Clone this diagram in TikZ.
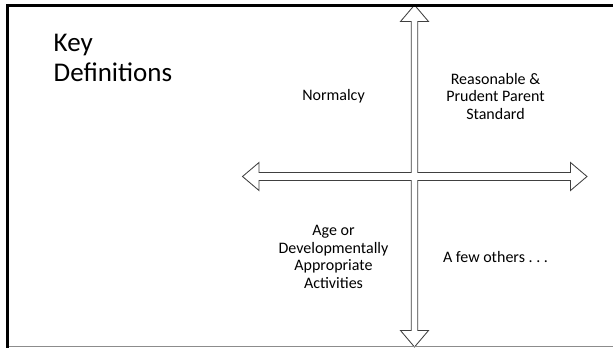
\documentclass[tikz,border=0pt]{standalone}
\usepackage{fontspec}
\setmainfont{Carlito}
\frenchspacing

\begin{document}
\begin{tikzpicture}[x=1pt, y=-1pt,
    quad/.style={align=center, inner sep=0pt, font=\fontsize{16}{17.8}\selectfont},
    crossline/.style={draw=black!75, line width=0.85pt, fill=white},
    frameline/.style={draw=black, line width=2.6pt}]
    \useasboundingbox (0,0) rectangle (613,348);

    \coordinate (cross) at (414.5,176.5);

    \begin{scope}[shift={(cross)}]
        \draw[crossline] (3.2,-4) -- (3.2,-155) -- (14,-155) -- (0,-171.5) -- (-14,-155) -- (-3.2,-155)
            -- (-3.2,-4) -- (-155.5,-4) -- (-155.5,-14) -- (-172,0) -- (-155.5,14) -- (-155.5,4)
            -- (-3.2,4) -- (-3.2,154) -- (-14,154) -- (0,170.5) -- (14,154) -- (3.2,154)
            -- (3.2,4) -- (156,4) -- (156,14) -- (172.5,0) -- (156,-14) -- (156,-4) -- cycle;
    \end{scope}

    \node[anchor=north west, align=left, inner sep=0pt, font=\fontsize{27}{30}\selectfont] (title) at (53.5,33.5) {Key\\Definitions};

    \node[quad] (text_tl) at ([shift={(-81,-80)}]cross) {Normalcy};
    \node[quad] (text_tr) at ([shift={(81,-80)}]cross) {Reasonable \&\\Prudent Parent\\Standard};
    \node[quad] (text_bl) at ([shift={(-81,80.5)}]cross) {Age or\\Developmentally\\Appropriate\\Activities};
    \node[quad] (text_br) at ([shift={(81,80.5)}]cross) {A few others . . .};

    \draw[black!45, line width=1pt] (7,346.5) -- (613,346.5);
    \draw[frameline] (613,5.3) -| (7.2,348);
\end{tikzpicture}
\end{document}
